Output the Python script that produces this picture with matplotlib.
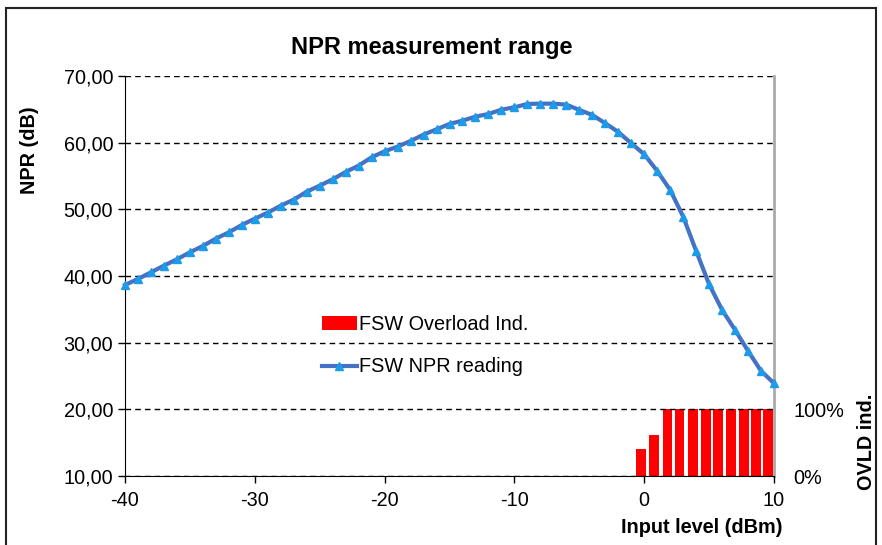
import matplotlib
matplotlib.use("Agg")
import matplotlib.pyplot as plt  # noqa: E402
from matplotlib.patches import Rectangle  # noqa: E402
from matplotlib.ticker import FuncFormatter  # noqa: E402

plt.rcParams["font.family"] = ["Liberation Sans", "DejaVu Sans"]
plt.rcParams["axes.unicode_minus"] = False

# NPR reading vs input level, 1 dB steps from -40 to +10 dBm
level_dbm = list(range(-40, 11))
npr_db = [38.65, 39.55, 40.55, 41.55, 42.5, 43.55, 44.5, 45.6, 46.55, 47.65,
          48.6, 49.5, 50.55, 51.45, 52.65, 53.55, 54.5, 55.6, 56.55, 57.8,
          58.7, 59.4, 60.25, 61.2, 62.0, 62.8, 63.3, 63.9, 64.3, 64.95,
          65.3, 65.8, 65.85, 65.85, 65.7, 64.9, 64.15, 62.9, 61.6, 59.9,
          58.25, 55.75, 52.9, 48.9, 43.75, 38.75, 34.9, 31.9, 28.75, 25.75,
          23.9]

# overload indicator bars (fraction of time overloaded)
ovld_x = [-0.25, 0.77, 1.79, 2.72, 3.74, 4.74, 5.71, 6.69, 7.69, 8.63, 9.56]
ovld_frac = [0.41, 0.61, 1.0, 1.0, 1.0, 1.0, 1.0, 1.0, 1.0, 1.0, 1.0]

FS = 14.3

fig = plt.figure(figsize=(8.82, 5.45), dpi=100)
ax = fig.add_axes([0.1417, 0.1266, 0.7359, 0.734])
ax2 = ax.twinx()

bars = ax2.bar(ovld_x, ovld_frac, width=0.76, color="#FF0000",
               label="FSW Overload Ind.", zorder=2)
ax2.set_ylim(0, 6)
ax2.set_yticks([0, 1])
ax2.yaxis.set_major_formatter(FuncFormatter(lambda v, _: f"{v*100:.0f}%"))
ax2.tick_params(axis="y", length=0, labelsize=FS, pad=14)
ax2.set_ylabel("OVLD ind.", fontsize=FS, fontweight="bold")
ax2.yaxis.set_label_coords(1.128, 0.085)
for s in ("top", "left", "bottom"):
    ax2.spines[s].set_visible(False)
ax2.spines["right"].set_color("#AAAAAA")
ax2.spines["right"].set_linewidth(2)

line, = ax.plot(level_dbm, npr_db, color="#4472C4", lw=3, marker="^",
                ms=6, mfc="#1E9BE8", mec="#1E9BE8", label="FSW NPR reading",
                zorder=5, clip_on=False)
ax.set_zorder(ax2.get_zorder() + 1)
ax.patch.set_visible(False)

ax.set_xlim(-40, 10)
ax.set_ylim(10, 70)
ax.set_xticks(range(-40, 11, 10))
ax.set_yticks(range(10, 71, 10))
ax.yaxis.set_major_formatter(FuncFormatter(lambda v, _: f"{v:.2f}".replace(".", ",")))
ax.tick_params(labelsize=FS, length=5, width=1)
ax.tick_params(axis="x", pad=6)
ax.grid(axis="y", color="black", ls=(0, (4, 3)), lw=1)
ax.set_axisbelow(True)
for s in ("top", "right"):
    ax.spines[s].set_visible(False)

ax.set_title("NPR measurement range", fontsize=17, fontweight="bold",
             x=0.473, pad=16)
ax.set_ylabel("NPR (dB)", fontsize=FS, fontweight="bold")
ax.yaxis.set_label_coords(-0.1325, 0.815)
ax.set_xlabel("Input level (dBm)", fontsize=FS, fontweight="bold")
ax.xaxis.set_label_coords(0.889, -0.105)

ax.legend([bars, line], ["FSW Overload Ind.", "FSW NPR reading"],
          loc="upper left", bbox_to_anchor=(0.276, 0.448), frameon=False,
          fontsize=FS, handlelength=1.75, handletextpad=0.1, labelspacing=1.2)

fig.patches.append(Rectangle((6 / 882, -0.05), 870 / 882, 1.05 - 8 / 545,
                             transform=fig.transFigure, fill=False,
                             ec="#222222", lw=1.5))

fig.savefig("out.png", dpi=100)
